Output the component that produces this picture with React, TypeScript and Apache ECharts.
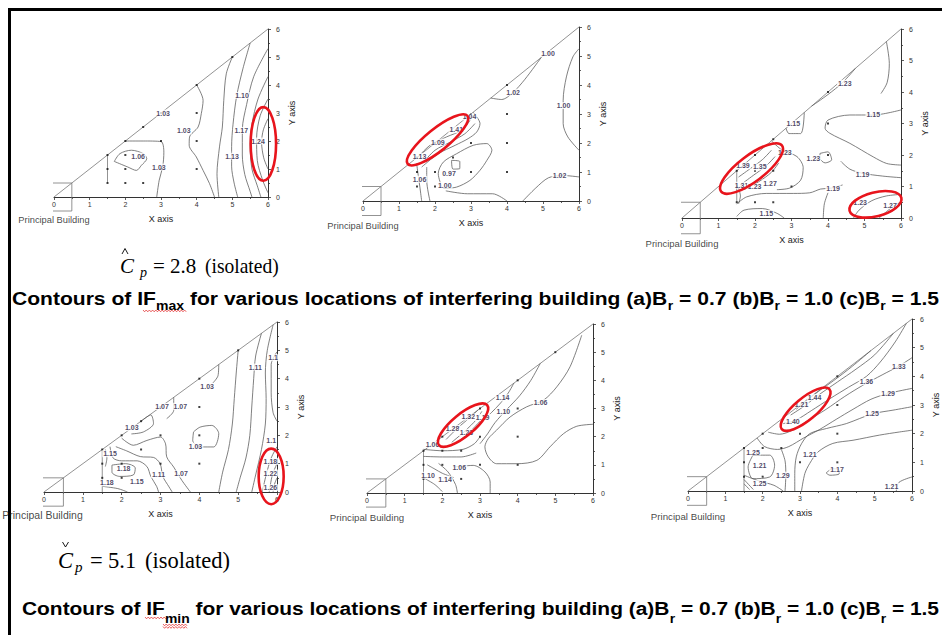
import React, { useEffect, useRef } from "react";
import * as echarts from "echarts";

// ---------- shared frame ----------
const AXIS_MIN = 0;
const AXIS_MAX = 6;
const AXIS_STEP = 1;
const DIAGONAL = [[0, 0], [6, 6]];
const BUILDING = [[-0.5, -0.5], [0.5, -0.5], [0.5, 0.5], [-0.5, 0.5], [-0.5, -0.5]];

// ---------- panel 1 : IFmax, Br = 0.7 ----------
const P1_STEM = [[1.5, 0.5], [1.5, 1.5]];
const P1_POINTS = [[1.5, 0.5], [1.5, 1], [1.5, 1.5], [2, 0.5], [2, 1], [2, 1.5], [2, 2], [2.5, 0.5], [2.5, 2.5], [3, 1], [3, 2], [3, 3], [4, 1], [4, 2], [4, 3], [4, 4], [5, 5]];
const P1_LINES = [
  [[1.69, 1.27], [1.85, 1.55], [2.17, 1.67], [2.5, 1.55], [2.6, 1.37], [2.45, 1.13], [2.31, 0.95], [2.07, 1.07], [1.69, 1.27]],
  [[2.0, 2.0], [2.5, 2.0], [3.0, 1.98], [3.08, 1.6], [3.05, 1.1], [2.95, 0.6], [2.88, 0]],
  [[4.0, 4.0], [4.18, 3.45], [4.13, 2.98], [4.04, 2.5], [3.8, 2.14], [3.79, 1.85], [3.99, 1.43], [4.18, 0.95], [4.36, 0.48], [4.5, 0]],
  [[5.0, 5.0], [4.83, 4.4], [4.76, 3.45], [4.72, 2.5], [4.64, 1.79], [4.57, 0.83], [4.62, 0]],
  [[5.5, 5.5], [5.3, 4.6], [5.12, 3.6], [5.02, 2.6], [4.98, 1.8], [4.98, 1.1], [5.05, 0.5], [5.15, 0]],
  [[6, 5.3], [5.6, 4.3], [5.4, 3.3], [5.28, 2.4], [5.28, 1.5], [5.35, 0.8], [5.5, 0.2], [5.55, 0]],
  [[6, 4.3], [5.72, 3.5], [5.55, 2.6], [5.5, 1.8], [5.55, 1.0], [5.7, 0.4], [5.8, 0]],
  [[6, 3.5], [5.78, 2.9], [5.68, 2.1], [5.7, 1.3], [5.85, 0.6], [6, 0.15]],
  [[6, 2.8], [5.87, 2.4], [5.82, 1.95], [5.88, 1.4], [6, 1.0]],
];
const P1_LABELS = [[3.06, 3.0, "1.03"], [3.64, 2.36, "1.03"], [2.36, 1.46, "1.06"], [2.94, 1.07, "1.03"], [5.27, 3.63, "1.10"], [5.25, 2.38, "1.17"], [4.99, 1.46, "1.13"], [5.72, 2.0, "1.24"]];
const P1_ELLIPSES = [[5.87, 0.58, 5.87, 3.21]];

// ---------- panel 2 : IFmax, Br = 1.0 ----------
const P2_POINTS = [[1.5, 0.5], [1.5, 1], [1.5, 1.5], [2, 0.5], [2, 1], [2, 2], [2.5, 1.5], [3, 1], [3, 2], [3, 3], [4, 1], [4, 2], [4, 3], [4, 4]];
const P2_LINES = [
  [[3.55, 3.55], [3.85, 3.5], [4.15, 3.72], [4.5, 4.2], [4.95, 4.95]],
  [[6, 5.25], [5.83, 4.97], [5.65, 4.28], [5.56, 3.47], [5.56, 2.67], [5.69, 2.21], [6, 1.75]],
  [[4.44, 0], [4.8, 0.45], [5.15, 0.8], [5.55, 0.88], [6, 0.83]],
  [[1.49, 1.46], [1.86, 1.92], [2.32, 2.21], [2.74, 2.44], [2.97, 2.78], [3.0, 3.0]],
  [[1.68, 1.34], [2.0, 1.75], [2.42, 2.03], [2.83, 2.32], [3.11, 2.67]],
  [[1.63, 1.17], [2.09, 1.63], [2.56, 1.92], [2.92, 2.15], [3.16, 2.38], [3.25, 2.67], [3.06, 3.06]],
  [[1.49, 1.29], [1.54, 0.83], [1.58, 0.48], [1.63, 0.0]],
  [[1.77, 1.17], [1.77, 0.71], [1.86, 0.0]],
  [[2.46, 1.4], [2.69, 1.36], [2.69, 1.12], [2.5, 1.1], [2.46, 1.4]],
  [[2.19, 0.48], [2.09, 0.94], [2.23, 1.34], [2.6, 1.63], [3.06, 1.92], [3.44, 1.98], [3.58, 1.75], [3.44, 1.4], [3.25, 1.06], [2.97, 0.71], [2.6, 0.48], [2.23, 0.43]],
  [[2.3, 0.35], [2.9, 0.25], [3.6, 0.25], [4.0, 0.0]],
];
const P2_LABELS = [[5.14, 5.08, "1.00"], [4.17, 3.75, "1.02"], [5.57, 3.29, "1.00"], [2.96, 2.9, "1.04"], [2.59, 2.46, "1.41"], [2.08, 2.03, "1.09"], [1.57, 1.54, "1.13"], [1.57, 0.75, "1.06"], [2.39, 0.94, "0.97"], [2.27, 0.54, "1.00"], [5.46, 0.89, "1.02"]];
const P2_ELLIPSES = [[1.24, 1.28, 2.9, 2.94]];

// ---------- panel 3 : IFmax, Br = 1.5 ----------
const P3_STEM = [[1.5, 0.5], [1.5, 1.5]];
const P3_POINTS = [[1.5, 0.5], [1.5, 1], [1.5, 1.5], [2, 0.5], [2, 1.5], [2, 2], [2.5, 0.5], [2.5, 1.5], [2.5, 2.5], [3, 1], [4, 2], [4, 3], [4, 4]];
const P3_LINES = [
  [[3.55, 3.55], [4.0, 3.92], [4.4, 4.3], [4.75, 4.75]],
  [[5.6, 5.6], [5.68, 4.9], [5.62, 4.3], [5.45, 3.95]],
  [[6, 3.43], [5.24, 3.27], [4.6, 3.27], [4.0, 3.11], [3.92, 2.85], [4.05, 2.69], [4.6, 2.37], [5.24, 1.94], [5.61, 1.73], [6, 1.68]],
  [[2.85, 2.85], [2.93, 2.68], [3.25, 2.68], [3.35, 3.35]],
  [[2.45, 2.45], [2.75, 2.15], [3.15, 1.95], [3.32, 1.6], [3.25, 1.2], [2.95, 0.95], [2.6, 0.9]],
  [[1.55, 1.3], [1.85, 1.55], [2.2, 1.85], [2.45, 2.15]],
  [[1.6, 1.05], [1.95, 1.35], [2.3, 1.65], [2.55, 1.95]],
  [[1.7, 0.9], [2.1, 1.15], [2.45, 1.45], [2.65, 1.75]],
  [[1.55, 0.95], [1.6, 0.7], [1.55, 0.45]],
  [[3.78, 2.05], [4.0, 2.1], [4.1, 1.85], [3.92, 1.75], [3.78, 1.9], [3.78, 2.05]],
  [[6, 1.28], [5.5, 1.33], [4.95, 1.42], [4.6, 1.55], [4.35, 1.8]],
  [[1.5, 0.45], [1.77, 0.67], [2.31, 0.78], [3.05, 0.78], [3.5, 0.8], [3.8, 0.92], [4.1, 0.95], [4.4, 1.05]],
  [[3.87, 0], [3.9, 0.45], [4.0, 0.8]],
  [[1.5, 0.05], [1.7, 0.25], [2.2, 0.3], [2.6, 0.15], [2.8, 0]],
  [[4.7, 0], [4.85, 0.25], [5.2, 0.55], [5.6, 0.7], [6, 0.75]],
  [[5.4, 0], [5.6, 0.2], [5.85, 0.42], [6, 0.5]],
];
const P3_LABELS = [[4.46, 4.28, "1.23"], [3.05, 3.0, "1.15"], [5.24, 3.27, "1.15"], [2.82, 2.07, "1.23"], [3.6, 1.89, "1.23"], [1.67, 1.66, "1.39"], [2.13, 1.62, "1.35"], [1.63, 1.04, "1.31"], [1.99, 0.99, "1.23"], [2.41, 1.11, "1.27"], [4.95, 1.39, "1.19"], [4.14, 0.93, "1.19"], [2.31, 0.14, "1.15"], [4.88, 0.48, "1.23"], [5.7, 0.4, "1.27"]];
const P3_ELLIPSES = [[1.07, 0.84, 2.74, 2.3], [4.59, 0.23, 6.01, 0.64]];

// ---------- panel 4 : IFmin, Br = 0.7 ----------
const P4_STEM = [[1.5, 0], [1.5, 1.5]];
const P4_POINTS = [[1.5, 0.5], [1.5, 1], [1.5, 1.5], [2, 0.5], [2, 1], [2, 2], [2.5, 1.5], [2.5, 2.5], [3, 1], [3, 2], [3, 3], [4, 1], [4, 2], [4, 3], [4, 4], [5, 5]];
const P4_LINES = [
  [[4.5, 4.5], [4.48, 4.1], [4.35, 3.85]],
  [[3.34, 3.34], [3.34, 2.88], [3.16, 2.59]],
  [[2.5, 2.5], [2.75, 2.72], [2.82, 2.42], [2.56, 2.12], [2.25, 2.05]],
  [[3.85, 2.12], [4.02, 2.29], [4.32, 2.35], [4.5, 2.06], [4.37, 1.59], [4.02, 1.59], [3.83, 1.82], [3.85, 2.12]],
  [[2.0, 1.9], [2.3, 1.65], [2.65, 1.82], [3.0, 1.94], [3.13, 1.7], [3.16, 1.24], [3.34, 0.88], [3.55, 0.41], [3.77, 0]],
  [[1.85, 1.6], [2.13, 1.45], [2.48, 1.25], [2.82, 1.22], [2.99, 1.0], [3.06, 0.55], [3.22, 0.18], [3.3, 0]],
  [[1.7, 1.6], [1.78, 1.2], [2.0, 1.1], [2.4, 1.1], [2.65, 0.9], [2.75, 0.55], [2.9, 0.2], [2.95, 0]],
  [[1.75, 0.95], [2.1, 1.0], [2.35, 0.85], [2.3, 0.6], [1.95, 0.55], [1.75, 0.7], [1.75, 0.95]],
  [[1.58, 1.5], [1.62, 1.2], [1.58, 0.9]],
  [[1.5, 0.2], [1.9, 0.12], [2.15, 0]],
  [[5.0, 5.0], [4.95, 4.2], [4.9, 3.3], [4.85, 2.4], [4.75, 1.5], [4.6, 0.7], [4.5, 0]],
  [[5.6, 5.6], [5.45, 4.8], [5.4, 4.0], [5.35, 3.0], [5.3, 2.0], [5.2, 1.2], [5.05, 0.5], [4.95, 0]],
  [[5.9, 5.9], [5.75, 5.0], [5.7, 4.2], [5.72, 3.3], [5.7, 2.4], [5.6, 1.5], [5.45, 0.6], [5.35, 0]],
  [[6, 4.95], [5.85, 4.5], [5.85, 3.5], [5.9, 2.8], [6, 2.5]],
  [[6, 1.6], [5.85, 1.2], [5.72, 0.6], [5.62, 0]],
  [[6, 1.0], [5.88, 0.6], [5.8, 0]],
  [[6, 0.5], [5.93, 0.25], [5.9, 0]],
];
const P4_LABELS = [[4.2, 3.71, "1.03"], [3.04, 3.02, "1.07"], [3.51, 3.02, "1.07"], [2.26, 2.27, "1.03"], [3.9, 1.62, "1.03"], [1.7, 1.35, "1.15"], [2.05, 0.82, "1.18"], [1.62, 0.32, "1.18"], [2.39, 0.38, "1.15"], [2.95, 0.61, "1.11"], [3.53, 0.64, "1.07"], [5.44, 4.41, "1.11"], [5.9, 4.74, "1.1"], [5.85, 1.82, "1.1"], [5.83, 1.08, "1.18"], [5.83, 0.67, "1.22"], [5.83, 0.15, "1.26"]];
const P4_ELLIPSES = [[5.85, -0.43, 5.85, 1.53]];

// ---------- panel 5 : IFmin, Br = 1.0 ----------
const P5_STEM = [[1.5, 0], [1.5, 1.5]];
const P5_POINTS = [[1.5, 0.5], [1.5, 1], [1.5, 1.5], [2, 1], [2, 1.5], [2, 2], [2.5, 0.5], [2.5, 1.5], [3, 1], [3, 2], [3, 3], [4, 1], [4, 2], [4, 3], [4, 4], [5, 5]];
const P5_LINES = [
  [[6, 2.44], [5.57, 2.37], [5.22, 2.11], [4.86, 1.64], [4.51, 1.16], [3.98, 1.04], [3.44, 1.04], [3.22, 1.28], [3.13, 1.64], [3.22, 1.93], [3.44, 2.23], [3.8, 2.7], [4.24, 3.06], [4.69, 3.3], [5.04, 3.77], [5.39, 4.48], [5.7, 5.6]],
  [[4.6, 4.6], [4.35, 4.0], [4.05, 3.45], [3.7, 2.95], [3.4, 2.5], [3.2, 2.1], [3.0, 1.75]],
  [[3.9, 3.9], [3.75, 3.55], [3.55, 3.2], [3.3, 2.85], [3.1, 2.6]],
  [[2.1, 1.9], [2.4, 2.3], [2.75, 2.7], [2.95, 2.95]],
  [[2.25, 1.8], [2.6, 2.2], [2.9, 2.6], [3.05, 2.9]],
  [[2.45, 1.85], [2.75, 2.2], [3.0, 2.55]],
  [[1.5, 1.55], [2.0, 1.5], [2.55, 1.55], [2.85, 1.75], [3.0, 2.0]],
  [[1.5, 1.3], [2.0, 1.28], [2.5, 1.28], [2.9, 1.42]],
  [[2.29, 0.92], [2.82, 0.98], [3.13, 0.75], [3.27, 0.39], [3.27, 0]],
  [[1.6, 1.0], [1.8, 0.85], [2.0, 0.7], [2.3, 0.55]],
  [[1.55, 0.5], [1.8, 0.3], [2.0, 0.05]],
  [[1.9, 1.05], [2.15, 0.75], [2.35, 0.3], [2.4, 0]],
];
const P5_LABELS = [[1.74, 1.73, "1.06"], [3.6, 3.38, "1.14"], [3.62, 2.88, "1.10"], [4.61, 3.21, "1.06"], [2.69, 2.7, "1.32"], [3.07, 2.68, "1.19"], [2.27, 2.29, "1.28"], [2.64, 2.15, "1.23"], [2.45, 0.89, "1.06"], [1.62, 0.63, "1.10"], [2.07, 0.49, "1.14"]];
const P5_ELLIPSES = [[1.91, 1.7, 3.19, 3.12]];

// ---------- panel 6 : IFmin, Br = 1.5 ----------
const P6_STEM = [[1.5, 0], [1.5, 1.5]];
const P6_POINTS = [[1.5, 0.5], [1.5, 1], [1.5, 1.5], [2, 0.5], [2, 1.5], [2, 2], [2.5, 1.5], [3, 1], [3, 2], [4, 1], [4, 2], [4, 3], [4, 4]];
const P6_LINES = [
  [[6, 2.12], [5.67, 2.06], [5.13, 1.95], [4.42, 1.77], [3.88, 1.66], [3.48, 1.36], [3.26, 0.96], [3.13, 0.61], [3.04, 0]],
  [[6, 2.94], [5.49, 2.82], [4.96, 2.7], [4.6, 2.53], [4.24, 2.35], [3.71, 2.18], [3.26, 2.0], [3.04, 1.65], [2.9, 1.19], [2.86, 0.61], [2.86, 0]],
  [[6, 3.58], [5.36, 3.4], [4.9, 3.2], [4.42, 2.85], [3.97, 2.5], [3.53, 2.15], [3.1, 1.85], [2.7, 1.55], [2.4, 1.45], [2.05, 1.55], [1.85, 1.85]],
  [[6, 4.65], [5.65, 4.36], [5.2, 4.05], [4.7, 3.7], [4.2, 3.3], [3.7, 2.85], [3.2, 2.45], [2.8, 2.12], [2.45, 1.98], [2.15, 2.05]],
  [[5.85, 5.85], [5.55, 5.2], [5.15, 4.5], [4.78, 4.0], [4.3, 3.62], [3.8, 3.22], [3.3, 2.8], [2.9, 2.48], [2.55, 2.35]],
  [[5.5, 5.5], [5.0, 4.75], [4.5, 4.25], [4.0, 3.8], [3.5, 3.35], [3.1, 2.95], [2.75, 2.65]],
  [[4.9, 4.9], [4.4, 4.35], [3.9, 3.85], [3.5, 3.48], [3.15, 3.12], [2.9, 2.85]],
  [[1.74, 1.25], [2.19, 1.25], [2.32, 0.9], [2.19, 0.49], [1.74, 0.43], [1.61, 0.84], [1.74, 1.25]],
  [[2.5, 1.45], [2.6, 1.05], [2.62, 0.55], [2.6, 0]],
  [[1.5, 0.55], [1.9, 0.35], [2.3, 0.2], [2.55, 0]],
  [[1.5, 0.4], [1.75, 0.05]],
  [[1.5, 0.25], [1.65, 0.05]],
  [[3.7, 0.63], [3.88, 0.78], [4.05, 0.72], [4.05, 0.6], [3.8, 0.55], [3.7, 0.63]],
  [[5.58, 0], [5.65, 0.3], [6, 0.49]],
];
const P6_LABELS = [[5.65, 4.36, "1.33"], [4.78, 3.81, "1.36"], [5.36, 3.4, "1.29"], [4.93, 2.7, "1.25"], [3.39, 3.26, "1.44"], [3.04, 3.03, "1.21"], [2.81, 2.44, "1.40"], [1.74, 1.36, "1.25"], [1.92, 0.9, "1.21"], [2.54, 0.55, "1.29"], [1.92, 0.26, "1.25"], [3.26, 1.28, "1.21"], [3.99, 0.76, "1.17"], [5.45, 0.16, "1.21"]];
const P6_ELLIPSES = [[2.51, 2.16, 3.79, 3.55]];

const PANELS = [
  { stem: P1_STEM, points: P1_POINTS, lines: P1_LINES, labels: P1_LABELS, ellipses: P1_ELLIPSES },
  { stem: null, points: P2_POINTS, lines: P2_LINES, labels: P2_LABELS, ellipses: P2_ELLIPSES },
  { stem: P3_STEM, points: P3_POINTS, lines: P3_LINES, labels: P3_LABELS, ellipses: P3_ELLIPSES },
  { stem: P4_STEM, points: P4_POINTS, lines: P4_LINES, labels: P4_LABELS, ellipses: P4_ELLIPSES },
  { stem: P5_STEM, points: P5_POINTS, lines: P5_LINES, labels: P5_LABELS, ellipses: P5_ELLIPSES },
  { stem: P6_STEM, points: P6_POINTS, lines: P6_LINES, labels: P6_LABELS, ellipses: P6_ELLIPSES },
];

// ---------- layout / style ----------
const GRID_BOXES = [
  { left: 54, top: 29, width: 214, height: 168 },
  { left: 363, top: 27, width: 216, height: 174 },
  { left: 682, top: 29, width: 219, height: 189 },
  { left: 44, top: 322, width: 233, height: 170 },
  { left: 367, top: 324, width: 226, height: 169 },
  { left: 688, top: 319, width: 224, height: 172 },
];
const ELLIPSE_HALF_WIDTH = [[12.7], [11], [13, 12], [12.5], [11], [11]];
const PB_STYLE = [
  { size: 9.3, dx: 0, dy: 23 },
  { size: 9.3, dx: 0, dy: 25 },
  { size: 9.5, dx: 0, dy: 25 },
  { size: 10.5, dx: -1.5, dy: 23 },
  { size: 9.7, dx: 0, dy: 24 },
  { size: 9.7, dx: 0, dy: 25 },
];
const SANS = '"Liberation Sans", Arial, sans-serif';
const SERIF = '"Liberation Serif", "Times New Roman", serif';

let measureCtx: CanvasRenderingContext2D | null = null;
function textWidth(t: string, font: string) {
  if (!measureCtx) measureCtx = document.createElement("canvas").getContext("2d");
  measureCtx!.font = font;
  return measureCtx!.measureText(t).width;
}

function textEl(x: number, baseline: number, text: string, font: string, size: number, extra: any = {}) {
  const cy = baseline - 0.345 * size;
  return {
    type: "text",
    x,
    y: cy,
    silent: true,
    ...extra,
    style: {
      text,
      font,
      fill: "#000",
      textAlign: "left",
      align: "left",
      textVerticalAlign: "middle",
      verticalAlign: "middle",
    },
  };
}

function titleGroup(sub: string, x0: number, baseline: number, targetW: number, drop: number) {
  const segs = [
    { t: "Contours of IF", s: false },
    { t: sub, s: true },
    { t: " for various locations of interfering building (a)B", s: false },
    { t: "r", s: true },
    { t: " = 0.7 (b)B", s: false },
    { t: "r", s: true },
    { t: " = 1.0 (c)B", s: false },
    { t: "r", s: true },
    { t: " = 1.5", s: false },
  ];
  let x = 0;
  const children: any[] = [];
  segs.forEach((sg) => {
    const size = sg.s ? 12 : 18;
    const font = `bold ${size}px ${SANS}`;
    const lead = sg.t.length - sg.t.replace(/^ +/, "").length;
    const trimmed = sg.t.replace(/^ +/, "");
    const leadW = lead ? textWidth(" ".repeat(lead), font) : 0;
    children.push(textEl(x + leadW, baseline + (sg.s ? drop : 0), trimmed, font, size));
    x += textWidth(sg.t, font);
  });
  return { type: "group", x: x0, y: 0, scaleX: targetW / x, children };
}

function squiggle(x0: number, x1: number, y: number) {
  const pts: number[][] = [];
  let up = true;
  for (let x = x0; x <= x1; x += 1.6) {
    pts.push([x, up ? y : y + 1.8]);
    up = !up;
  }
  return { type: "polyline", silent: true, shape: { points: pts }, style: { stroke: "#e02020", lineWidth: 0.7, fill: null } };
}

function cpLine(x: number[], baseline: number, size: number, subSize: number, value: string, scaleIso: number, hat: number[][]) {
  const it = `italic ${size}px ${SERIF}`;
  const itSub = `italic ${subSize}px ${SERIF}`;
  const rm = `${size}px ${SERIF}`;
  return [
    textEl(x[0], baseline, "C", it, size),
    textEl(x[1], baseline + 4, "p", itSub, subSize),
    textEl(x[2], baseline, "=", rm, size),
    textEl(x[3], baseline, value, rm, size),
    textEl(x[4], baseline, "(isolated)", rm, size, { scaleX: scaleIso }),
    { type: "polyline", silent: true, shape: { points: hat }, style: { stroke: "#000", lineWidth: 0.9, fill: null } },
  ];
}

function buildOption() {
  const grid = GRID_BOXES.map((g) => ({ ...g, containLabel: false }));
  const axisCommon = (i: number) => ({
    type: "value",
    gridIndex: i,
    min: AXIS_MIN,
    max: AXIS_MAX,
    interval: AXIS_STEP,
    axisLine: { show: true, onZero: false, lineStyle: { color: "#333", width: 1 } },
    axisTick: { show: true, length: 3, lineStyle: { color: "#333", width: 0.8 } },
    minorTick: { show: true, splitNumber: 2, length: 2, lineStyle: { color: "#333", width: 0.8 } },
    splitLine: { show: false },
    minorSplitLine: { show: false },
    nameLocation: "middle",
    nameTextStyle: { fontSize: 9, color: "#222", fontFamily: SANS },
  });
  const xAxis = GRID_BOXES.map((_, i) => ({
    ...axisCommon(i),
    position: "bottom",
    name: "X axis",
    nameGap: 17,
    axisLabel: { fontSize: 7, color: "#333", margin: 4, fontFamily: SANS },
  }));
  const yAxis = GRID_BOXES.map((_, i) => ({
    ...axisCommon(i),
    position: "right",
    name: "Y axis",
    nameRotate: 90,
    nameGap: 19,
    axisLabel: { fontSize: 7, color: "#333", margin: 8, fontFamily: SANS },
  }));

  const series: any[] = [];
  PANELS.forEach((p, i) => {
    const ax = { xAxisIndex: i, yAxisIndex: i };
    const frame = [DIAGONAL, BUILDING, ...(p.stem ? [p.stem] : [])];
    frame.forEach((f) =>
      series.push({ type: "line", ...ax, data: f, symbol: "none", clip: false, silent: true, lineStyle: { color: "#777", width: 0.8 }, z: 2 })
    );
    p.lines.forEach((l) =>
      series.push({ type: "line", ...ax, data: l, symbol: "none", smooth: 0.3, clip: false, silent: true, lineStyle: { color: "#555", width: 0.75 }, z: 3 })
    );
    series.push({ type: "scatter", ...ax, data: p.points, symbol: "rect", symbolSize: 2, itemStyle: { color: "#111" }, silent: true, z: 4 });
    series.push({
      type: "scatter",
      ...ax,
      data: p.labels.map((d: any[]) => ({ value: [d[0], d[1]], name: d[2] })),
      symbolSize: 1,
      itemStyle: { color: "rgba(0,0,0,0)" },
      silent: true,
      z: 5,
      label: {
        show: true,
        position: "inside",
        formatter: "{b}",
        fontSize: 7,
        fontWeight: "bold",
        fontFamily: SANS,
        color: "#1e1642",
        backgroundColor: "#fff",
        padding: [0, 1],
      },
    });
    const widths = ELLIPSE_HALF_WIDTH[i];
    series.push({
      type: "custom",
      ...ax,
      data: p.ellipses,
      dimensions: ["x1", "y1", "x2", "y2"],
      encode: { x: [0, 2], y: [1, 3] },
      clip: false,
      silent: true,
      z: 10,
      renderItem: (params: any, api: any) => {
        const a = api.coord([api.value(0), api.value(1)]);
        const b = api.coord([api.value(2), api.value(3)]);
        const rx = Math.hypot(b[0] - a[0], b[1] - a[1]) / 2;
        const ang = Math.atan2(b[1] - a[1], b[0] - a[0]);
        return {
          type: "ellipse",
          x: (a[0] + b[0]) / 2,
          y: (a[1] + b[1]) / 2,
          rotation: -ang,
          shape: { cx: 0, cy: 0, rx, ry: widths[params.dataIndex] },
          style: { fill: "none", stroke: "#e8141c", lineWidth: 2.6 },
        };
      },
    });
    const pb = PB_STYLE[i];
    series.push({
      type: "scatter",
      ...ax,
      data: [[0, 0]],
      symbolSize: 1,
      itemStyle: { color: "rgba(0,0,0,0)" },
      silent: true,
      clip: false,
      z: 6,
      label: {
        show: true,
        position: "inside",
        formatter: "Principal Building",
        offset: [pb.dx, pb.dy],
        fontSize: pb.size,
        fontFamily: SANS,
        color: "#111",
      },
    });
  });

  const graphic: any[] = [
    { type: "rect", silent: true, shape: { x: 8, y: 8, width: 3, height: 627 }, style: { fill: "#000" } },
    { type: "rect", silent: true, shape: { x: 8, y: 8, width: 934, height: 3 }, style: { fill: "#000" } },
    titleGroup("max", 12, 304.5, 927, 6),
    titleGroup("min", 22, 615, 917, 8),
    squiggle(143, 187, 310),
    squiggle(145, 167, 617),
    squiggle(163, 187, 624),
    squiggle(163, 187, 626.5),
    ...cpLine([120, 140, 153, 170, 205], 273, 21, 14, "2.8", 0.93, [[122, 254], [125, 248.5], [128, 254]]),
    ...cpLine([58, 75, 90, 108, 145], 568, 22.5, 15, "5.1", 1.0, [[62.5, 542], [65.5, 547], [68.5, 542]]),
  ];

  return { animation: false, backgroundColor: "#fff", grid, xAxis, yAxis, series, graphic };
}

export default function App() {
  const ref = useRef<HTMLDivElement>(null);
  useEffect(() => {
    const chart = echarts.init(ref.current!, null, { renderer: "svg", width: 942, height: 635 });
    chart.setOption(buildOption() as any);
    return () => chart.dispose();
  }, []);
  return <div ref={ref} style={{ position: "fixed", left: 0, top: 0, width: 942, height: 635, background: "#fff" }} />;
}
